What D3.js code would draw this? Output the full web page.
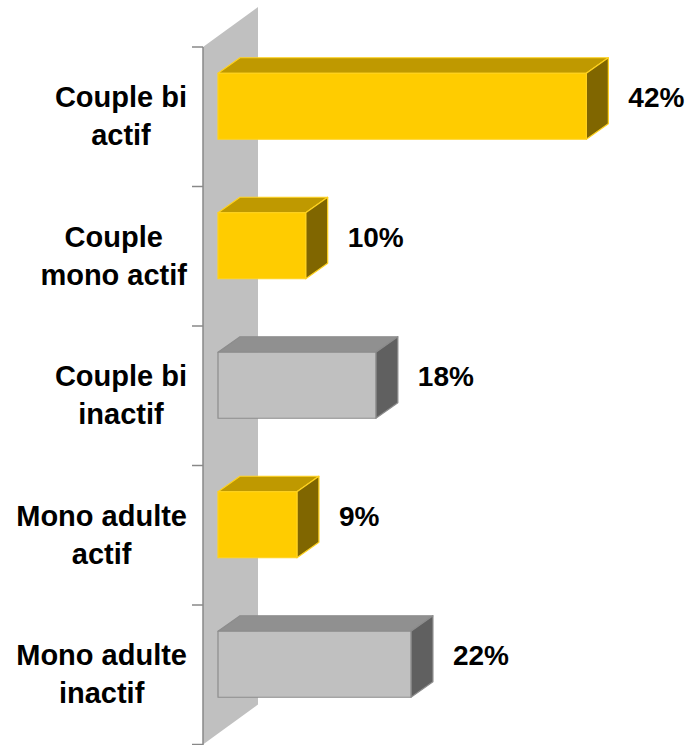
<!DOCTYPE html>
<html>
<head>
<meta charset="utf-8">
<script src="https://cdn.jsdelivr.net/npm/d3@7"></script>
<style>
  body { margin: 0; background: #fff; }
  svg { display: block; }
  text { font-family: "Liberation Sans", Arial, sans-serif; font-weight: bold; fill: #000; }
</style>
</head>
<body>
<svg width="686" height="745"></svg>
<script>
const categories = [
  ["Couple bi", "actif"],
  ["Couple", "mono actif"],
  ["Couple bi", "inactif"],
  ["Mono adulte", "actif"],
  ["Mono adulte", "inactif"]
];
const values = [0.42, 0.10, 0.18, 0.09, 0.22];
const labels = ["42%", "10%", "18%", "9%", "22%"];
const kinds = ["actif", "actif", "inactif", "actif", "inactif"];

const palette = {
  actif:   { front: "#ffcc00", top: "#bf9900", side: "#806600", stroke: "#ffd21f" },
  inactif: { front: "#c0c0c0", top: "#909090", side: "#606060", stroke: "#8c8c8c" }
};

const svg = d3.select("svg");
const ids = categories.map((d, i) => i);

// front plane of the plot, depth goes up-right
const x = d3.scaleLinear().domain([0, 0.5]).range([203, 641.5]);
const y = d3.scaleBand().domain(ids).range([47, 744.5])
  .paddingInner(0.527).paddingOuter(0.2635);
const step = y.step();
const wall = { dx: 55, dy: -40 };
const fo = { dx: 15, dy: -10.5 };  // bar front face offset
const bo = { dx: 37, dy: -26 };    // bar back face offset

// side wall
const y0 = y.range()[0], y1 = y.range()[1];
svg.append("polygon")
  .attr("points", [[x(0), y0], [x(0) + wall.dx, y0 + wall.dy], [x(0) + wall.dx, y1 + wall.dy], [x(0), y1]].join(" "))
  .attr("fill", "#c0c0c0");

// category axis
svg.append("line")
  .attr("x1", x(0)).attr("x2", x(0))
  .attr("y1", y0).attr("y2", 745)
  .attr("stroke", "#888").attr("stroke-width", 1.5);

svg.append("g")
  .selectAll("line")
  .data(d3.range(categories.length + 1))
  .enter()
  .append("line")
  .attr("x1", x(0) - 11).attr("x2", x(0))
  .attr("y1", d => y0 + d * step).attr("y2", d => y0 + d * step)
  .attr("stroke", "#888").attr("stroke-width", 1.5);

// bars
const bars = svg.append("g")
  .selectAll("g")
  .data(ids)
  .enter()
  .append("g")
  .attr("stroke", d => palette[kinds[d]].stroke)
  .attr("stroke-width", 1.2)
  .attr("stroke-linejoin", "round");

bars.append("polygon")
  .attr("fill", d => palette[kinds[d]].top)
  .attr("points", d => {
    const a = x(0), b = x(values[d]), t = y(d);
    return [[a + fo.dx, t + fo.dy], [b + fo.dx, t + fo.dy], [b + bo.dx, t + bo.dy], [a + bo.dx, t + bo.dy]].join(" ");
  });

bars.append("polygon")
  .attr("fill", d => palette[kinds[d]].side)
  .attr("points", d => {
    const b = x(values[d]), t = y(d), h = y.bandwidth();
    return [[b + fo.dx, t + fo.dy], [b + bo.dx, t + bo.dy], [b + bo.dx, t + h + bo.dy], [b + fo.dx, t + h + fo.dy]].join(" ");
  });

bars.append("rect")
  .attr("fill", d => palette[kinds[d]].front)
  .attr("x", x(0) + fo.dx)
  .attr("y", d => y(d) + fo.dy)
  .attr("width", d => x(values[d]) - x(0))
  .attr("height", y.bandwidth());

// value labels
svg.append("g")
  .selectAll("text")
  .data(ids)
  .enter()
  .append("text")
  .attr("x", d => x(values[d]) + bo.dx + 20)
  .attr("y", d => y(d) + y.bandwidth() / 2 - 9.5)
  .style("font-size", "28px")
  .text(d => labels[d]);

// category labels: lines centred in a block right-aligned near the axis
const catG = svg.append("g")
  .selectAll("g")
  .data(ids)
  .enter()
  .append("g");

catG.each(function (d) {
  const g = d3.select(this);
  const cy = y(d) + y.bandwidth() / 2;
  const texts = g.selectAll("text")
    .data(categories[d])
    .enter()
    .append("text")
    .attr("text-anchor", "middle")
    .attr("y", (s, j) => cy - 9.5 + j * 38)
    .style("font-size", "29px")
    .text(s => s);
  let w = 0;
  texts.each(function () { w = Math.max(w, this.getComputedTextLength()); });
  texts.attr("x", 187 - w / 2);
});
</script>
</body>
</html>
